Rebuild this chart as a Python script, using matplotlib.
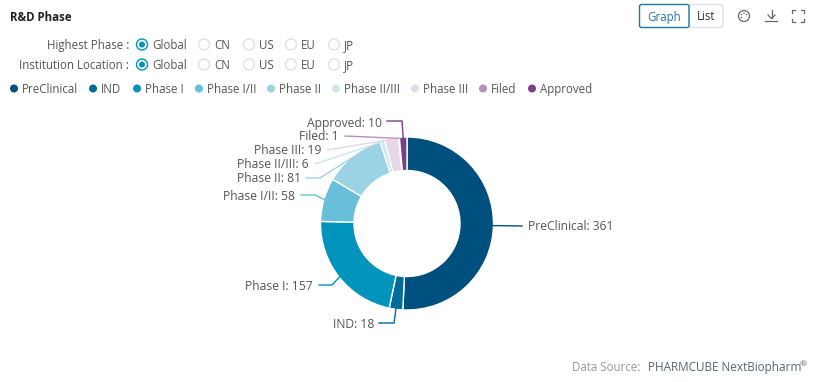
import numpy as np
import matplotlib
matplotlib.use("Agg")
import matplotlib.pyplot as plt
from matplotlib.patches import Circle, FancyBboxPatch

phases = ["PreClinical", "IND", "Phase I", "Phase I/II", "Phase II", "Phase II/III", "Phase III", "Filed", "Approved"]
counts = [361, 18, 157, 58, 81, 6, 19, 1, 10]
colors = ["#00507F", "#006C97", "#0094BC", "#68BFD9", "#9BD3E5", "#CCE7F1", "#E6D8E8", "#B98FBB", "#7B3F85"]
radio_options = ["Global", "CN", "US", "EU", "JP"]
filter_rows = ["Highest Phase :", "Institution Location :"]

FONT = "Open Sans"
FS = 8.3
FS_LABEL = 8.7
TXT = "#555555"
plt.rcParams["font.family"] = [FONT, "DejaVu Sans"]

fig = plt.figure(figsize=(8.14, 3.82), dpi=100)
ax = fig.add_axes([0, 0, 1, 1])

cx, cy, R, r = 407, 223.5, 86.5, 53
ax.pie(counts, colors=colors, center=(cx, cy), radius=R, startangle=-90, counterclock=True,
       wedgeprops=dict(width=R - r, edgecolor="white", linewidth=1.0))
ax.set_xlim(0, 814)
ax.set_ylim(382, 0)
ax.set_aspect("equal")
ax.axis("off")

layout = [
    (528, 227, "left", [(522, 226)]),
    (374, 325, "right", [(379, 323), (394, 323)]),
    (313, 286, "right", [(319, 285), (332, 285)]),
    (295, 196, "right", [(301, 195), (315, 195)]),
    (301, 179, "right", [(306, 178), (320, 178)]),
    (309, 165, "right", [(315, 164)]),
    (321, 151, "right", [(327, 150)]),
    (339, 137, "right", [(345, 136)]),
    (382, 123, "right", [(387, 121), (402, 121)]),
]
cum = np.cumsum([0] + counts[:-1])
total = sum(counts)
for name, val, c0, col, (tx, ty, ha, pts) in zip(phases, counts, cum, colors, layout):
    a = 2 * np.pi * (c0 + val / 2) / total
    px, py = cx + (R - 1) * np.sin(a), cy - (R - 1) * np.cos(a)
    xs = [p[0] for p in pts] + [px]
    ys = [p[1] for p in pts] + [py]
    ax.plot(xs, ys, color=col, lw=1.0, solid_joinstyle="miter", zorder=1)
    ax.text(tx, ty, f"{name}: {val}", ha=ha, va="center", fontsize=FS_LABEL, color=TXT)

ax.text(10, 17.5, "R&D Phase", fontsize=FS, fontweight="bold", color="#222222", va="center")

row_y = [44.5, 64.5]
radio_x = [142, 204, 249, 291, 334]
for label, y in zip(filter_rows, row_y):
    ax.text(129, y + 0.7, label, ha="right", va="center", fontsize=FS, color=TXT)
    for i, (opt, x) in enumerate(zip(radio_options, radio_x)):
        edge = "#0094BC" if i == 0 else "#E0E0EA"
        ax.add_patch(Circle((x, y), 5.5, fc="white", ec=edge, lw=1))
        if i == 0:
            ax.add_patch(Circle((x, y), 3, fc="#0094BC", ec="none"))
        ax.text(x + 10, y + 0.7, opt, va="center", fontsize=FS, color=TXT)

dot_x = [14, 93, 137, 199, 271, 336, 415, 483, 532]
for name, col, x in zip(phases, colors, dot_x):
    ax.add_patch(Circle((x, 88.5), 4, fc=col, ec="none"))
    ax.text(x + 8, 89.2, name, va="center", fontsize=FS, color=TXT)

ax.add_patch(FancyBboxPatch((689, 4.5), 34, 23, boxstyle="round,pad=0,rounding_size=3", fc="white", ec="#DDE0E6", lw=1))
ax.add_patch(FancyBboxPatch((639.5, 4.5), 49.5, 23, boxstyle="round,pad=0,rounding_size=2", fc="white", ec="#1B7A9E", lw=1, zorder=3))
ax.text(664, 17, "Graph", ha="center", va="center", fontsize=FS, color="#1B7A9E", zorder=4)
ax.text(706.5, 17, "List", ha="center", va="center", fontsize=FS, color="#333333", zorder=4)

ICON = "#666666"
ax.add_patch(Circle((744, 16), 5.5, fc="white", ec=ICON, lw=0.9))
for dx, dy in [(-2.5, -1.5), (0, -3), (2.5, -1.5), (-2.5, 1.5)]:
    ax.add_patch(Circle((744 + dx, 16 + dy), 0.8, fc=ICON, ec="none"))
ax.plot([771.5, 771.5], [10, 18], color=ICON, lw=0.9)
ax.plot([768, 771.5, 775], [15, 18.5, 15], color=ICON, lw=0.9)
ax.plot([765, 777], [20.5, 20.5], color=ICON, lw=0.9)
for sx, sy in [(-1, -1), (1, -1), (-1, 1), (1, 1)]:
    x0, y0 = 798 + sx * 6, 15.5 + sy * 6
    ax.plot([x0 - sx * 3, x0, x0], [y0, y0, y0 - sy * 3], color=ICON, lw=0.9)

ax.text(572, 367.5, "Data Source:", va="center", fontsize=FS, color="#999999")
ax.text(648, 367.5, "PHARMCUBE NextBiopharm", va="center", fontsize=8.5, color="#5A6472")
ax.text(800, 365, "®", va="center", fontsize=6, color="#5A6472")

fig.savefig("out.png", dpi=100)
